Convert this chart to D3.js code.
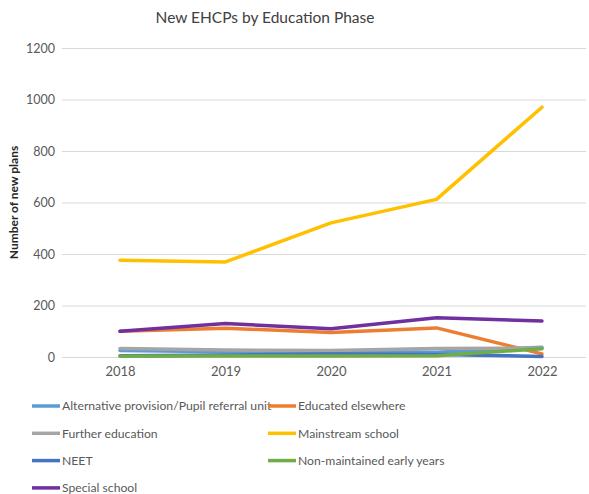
<!DOCTYPE html>
<html>
<head>
<meta charset="utf-8">
<script src="https://cdn.jsdelivr.net/npm/d3@7"></script>
<style>
  html, body { margin: 0; padding: 0; background: #fff; }
  svg { display: block; font-family: Lato, "Open Sans", sans-serif; }
</style>
</head>
<body>
<svg id="chart" width="589" height="494"></svg>
<script>
// Years on the category axis
const years = ["2018", "2019", "2020", "2021", "2022"];

// New EHCPs per education phase, one array per series
const altProvision = [25, 20, 22, 18, 38];
const educatedElsewhere = [100, 112, 95, 113, 12];
const furtherEducation = [33, 27, 25, 33, 35];
const mainstreamSchool = [376, 369, 521, 612, 970];
const neet = [5, 8, 12, 10, 2];
const nonMaintainedEarlyYears = [3, 4, 4, 5, 32];
const specialSchool = [100, 130, 110, 152, 140];

const seriesNames = [
  "Alternative provision/Pupil referral unit",
  "Educated elsewhere",
  "Further education",
  "Mainstream school",
  "NEET",
  "Non-maintained early years",
  "Special school"
];
const seriesValues = [
  altProvision, educatedElsewhere, furtherEducation, mainstreamSchool,
  neet, nonMaintainedEarlyYears, specialSchool
];
const seriesColors = ["#5B9BD5", "#ED7D31", "#A5A5A5", "#FFC000", "#4472C4", "#70AD47", "#7030A0"];

const yTicks = [0, 200, 400, 600, 800, 1000, 1200];

const svg = d3.select("#chart");

// Plot geometry
const gridLeft = 62, gridRight = 586;
const plotTop = 48, plotBottom = 357;

const x = d3.scalePoint().domain(years).range([120, 542]);
const y = d3.scaleLinear().domain([0, 1200]).range([plotBottom, plotTop]);

// Title
svg.append("text")
  .attr("x", 265).attr("y", 23)
  .attr("text-anchor", "middle")
  .attr("font-size", 15.5)
  .attr("fill", "#404040")
  .text("New EHCPs by Education Phase");

// Horizontal gridlines and y tick labels
const yAxis = d3.axisLeft(y).tickValues(yTicks).tickSize(0).tickPadding(0).tickFormat(d3.format("d"));
const yg = svg.append("g").attr("transform", `translate(55,0)`).call(yAxis);
yg.select(".domain").remove();
yg.selectAll("text").attr("font-size", 12.5).attr("fill", "#595959").attr("font-family", "Lato, sans-serif");

svg.append("g").selectAll("line")
  .data(yTicks)
  .join("line")
  .attr("x1", gridLeft).attr("x2", gridRight)
  .attr("y1", d => y(d) + 0.5).attr("y2", d => y(d) + 0.5)
  .attr("stroke", "#d9d9d9").attr("stroke-width", 1);

// X labels
const xAxis = d3.axisBottom(x).tickSize(0).tickPadding(0);
const xg = svg.append("g").attr("transform", `translate(0,${plotBottom + 10})`).call(xAxis);
xg.select(".domain").remove();
xg.selectAll("text").attr("font-size", 13).attr("fill", "#595959").attr("font-family", "Lato, sans-serif").attr("dy", "0.71em");

// Y axis title
svg.append("text")
  .attr("transform", `translate(18,${(plotTop + plotBottom) / 2}) rotate(-90)`)
  .attr("text-anchor", "middle")
  .attr("font-size", 12)
  .attr("font-weight", "bold")
  .attr("fill", "#262626")
  .text("Number of new plans");

// Series lines
const line = d3.line()
  .x((d, i) => x(years[i]))
  .y(d => y(d));

svg.append("g").selectAll("path")
  .data(seriesValues)
  .join("path")
  .attr("d", d => line(d))
  .attr("fill", "none")
  .attr("stroke", (d, i) => seriesColors[i])
  .attr("stroke-width", 3.5)
  .attr("stroke-linejoin", "round")
  .attr("stroke-linecap", "round");

// Legend, two columns
const legend = svg.append("g");
const legendItems = legend.selectAll("g")
  .data(seriesNames)
  .join("g")
  .attr("transform", (d, i) => `translate(${i % 2 === 0 ? 32 : 268},${406 + Math.floor(i / 2) * 27.3})`);

legendItems.append("line")
  .attr("x1", 0).attr("x2", 28)
  .attr("stroke", (d, i) => seriesColors[i])
  .attr("stroke-width", 3.5);

legendItems.append("text")
  .attr("x", 30).attr("dy", "0.35em")
  .attr("font-size", 12.2)
  .attr("fill", "#595959")
  .text(d => d);
</script>
</body>
</html>
